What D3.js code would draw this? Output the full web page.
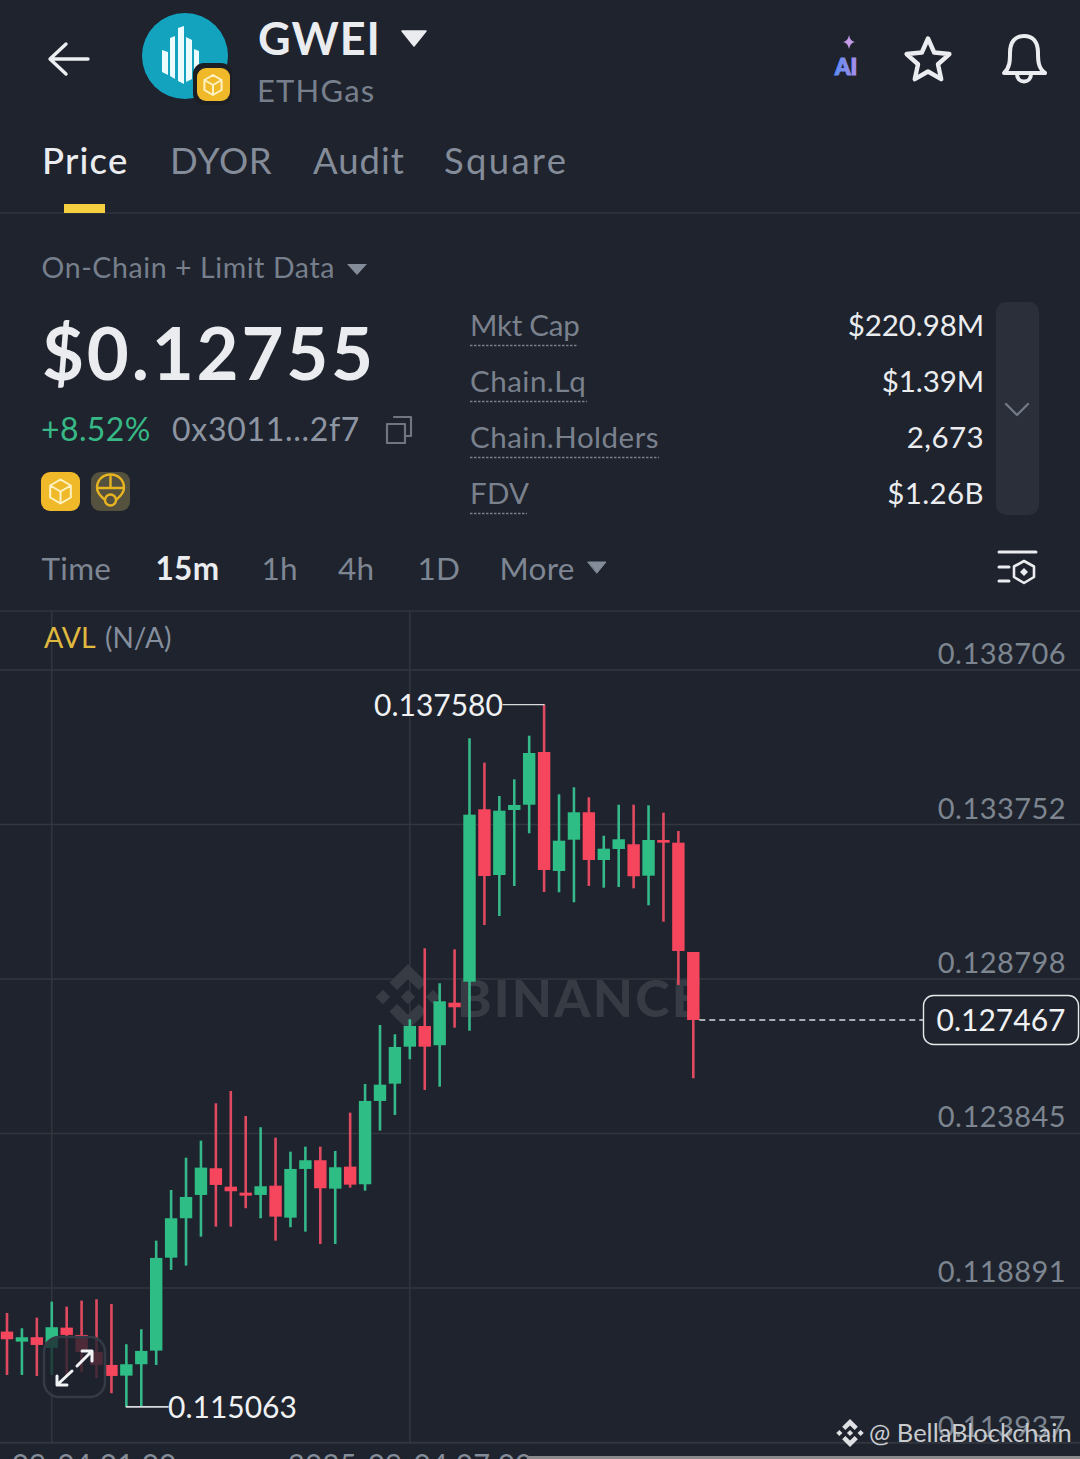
<!DOCTYPE html>
<html><head><meta charset="utf-8">
<script src="https://cdn.jsdelivr.net/npm/d3@7/dist/d3.min.js"></script>
<style>
html,body{margin:0;padding:0;background:#1e232d;overflow:hidden}
svg{display:block}
text{font-family:Lato,"Open Sans",sans-serif}
</style></head><body><div id="c"></div>
<script>
const openP=[.117476,.117155,.117296,.116953,.117604,.117370,.116825,.116408,.116065,.116430,.116867,.119848,.121111,.121858,.122714,.122124,.121932,.121858,.122156,.121131,.122692,.122971,.122060,.122766,.122201,.124872,.125427,.126613,.127276,.126658,.128023,.128697,.134224,.132117,.134201,.134371,.136061,.132246,.133249,.134128,.132598,.132951,.133102,.132095,.133240,.133153,.129649];
const highP=[.118075,.117585,.117925,.118437,.118277,.118470,.118514,.118364,.117072,.117553,.120393,.122019,.123054,.123599,.124798,.125193,.124391,.124029,.123695,.123246,.123407,.123407,.123269,.124497,.125417,.127308,.127010,.127491,.129767,.128645,.129735,.136500,.135718,.134650,.135186,.136583,.137580,.134705,.134929,.134609,.133377,.134371,.134371,.134352,.134115,.133528,.129649];
const lowP=[.116087,.116087,.116055,.116087,.116087,.116184,.115991,.115501,.115063,.115063,.116408,.119454,.119592,.120521,.120842,.120842,.121432,.121111,.120393,.120823,.120682,.120287,.120287,.122092,.121996,.123920,.124423,.126209,.125225,.125330,.127222,.127126,.130514,.130803,.131765,.133454,.131572,.131563,.131242,.131765,.131710,.131733,.131691,.131146,.130620,.128591,.125600];
const closeP=[.117232,.117296,.117049,.117617,.117370,.116825,.116408,.116055,.116430,.116857,.119839,.121111,.121794,.122734,.122179,.121977,.121836,.122137,.121163,.122692,.122971,.122073,.122746,.122189,.124872,.125394,.126603,.127276,.126613,.128068,.127876,.134051,.132085,.134179,.134362,.136029,.132278,.133217,.134128,.132598,.132961,.133262,.132076,.133240,.133153,.129681,.127467];
const priceTicks=[.138706,.133752,.128798,.123845,.118891,.113937];
const gridCandles=[3,27];
const timeLabels=["09-04 01:00","2025-09-04 07:00"];
const lastPrice=.127467, maxPrice=.137580, minPrice=.115063;
const tabs=["Price","DYOR","Audit","Square"];
const periods=["Time","15m","1h","4h","1D","More"];
const statNames=["Mkt Cap","Chain.Lq","Chain.Holders","FDV"];
const statValues=["$220.98M","$1.39M","2,673","$1.26B"];

const W=1080,H=1459,BG="#1e232d",GREEN="#2ebd85",RED="#f6465d",GRID="#32373f",GREY="#848e9c",WHITE="#eaecef";
const svg=d3.select("#c").append("svg").attr("width",W).attr("height",H).attr("viewBox",`0 0 ${W} ${H}`);
const T=(x,y,s,size,fill,o={})=>svg.append("text").attr("x",x).attr("y",y).text(s).attr("font-size",size).attr("fill",fill)
  .attr("font-weight",o.w||400).attr("text-anchor",o.a||"start").attr("letter-spacing",o.ls||0).attr("font-family",o.f||null);
const P=(d,o={})=>svg.append("path").attr("d",d).attr("fill",o.fill||"none").attr("stroke",o.stroke||"none").attr("stroke-width",o.sw||0)
  .attr("stroke-linecap","round").attr("stroke-linejoin","round").attr("opacity",o.op==null?1:o.op);

/* scales */
const y=d3.scaleLinear().domain([priceTicks[0],priceTicks[5]]).range([669.5,1442]);
const x=d3.scaleLinear().domain([0,46]).range([7,693.3]);

/* frame lines */
[213,611,1443].forEach(v=>svg.append("line").attr("x1",0).attr("x2",W).attr("y1",v).attr("y2",v).attr("stroke",v==1443?"#2c313b":"#30353e").attr("stroke-width",v==1443?2:1.5));

/* grid and axis */
gridCandles.forEach(i=>svg.append("line").attr("x1",x(i)).attr("x2",x(i)).attr("y1",611).attr("y2",1443).attr("stroke",GRID).attr("stroke-width",1.5));
const ax=svg.append("g").call(d3.axisRight(y).tickValues(priceTicks).tickFormat(d3.format(".6f")).tickSize(W));
ax.select(".domain").remove();
ax.selectAll("line").attr("stroke",GRID).attr("stroke-width",1.5);
ax.selectAll("text").attr("x",1066).attr("dy",0).attr("y",-6).attr("text-anchor","end").attr("font-size",29).attr("fill","#7d8590").attr("font-family","Lato").attr("letter-spacing",.45);

/* BINANCE watermark */
const wm="#363b44";
const dia=(cx,cy,r)=>`M${cx},${cy-r}L${cx+r},${cy}L${cx},${cy+r}L${cx-r},${cy}Z`;
const logo=(cx,cy,s,c)=>{
  P(`M${cx},${cy-s}L${cx+s*.56},${cy-s*.44}L${cx+s*.33},${cy-s*.21}L${cx},${cy-s*.54}L${cx-s*.33},${cy-s*.21}L${cx-s*.56},${cy-s*.44}Z`,{fill:c});
  P(`M${cx},${cy+s}L${cx+s*.56},${cy+s*.44}L${cx+s*.33},${cy+s*.21}L${cx},${cy+s*.54}L${cx-s*.33},${cy+s*.21}L${cx-s*.56},${cy+s*.44}Z`,{fill:c});
  P(dia(cx-s*.76,cy,s*.22),{fill:c});P(dia(cx+s*.76,cy,s*.22),{fill:c});P(dia(cx,cy,s*.22),{fill:c});
};
logo(408,997,33,wm);
T(457,1017,"BINANCE",52,wm,{w:900,ls:2.2});

/* candles */
const idx=d3.range(openP.length);
const bw=12.4;
const g=svg.append("g");
g.selectAll("line.w").data(idx).join("line").attr("x1",i=>x(i)).attr("x2",i=>x(i)).attr("y1",i=>y(highP[i])).attr("y2",i=>y(lowP[i]))
 .attr("stroke",i=>closeP[i]>=openP[i]?"#35b98a":"#e04a60").attr("stroke-width",2.6);
g.selectAll("rect").data(idx).join("rect").attr("x",i=>x(i)-bw/2).attr("width",bw)
 .attr("y",i=>y(Math.max(openP[i],closeP[i]))).attr("height",i=>Math.max(2.5,Math.abs(y(openP[i])-y(closeP[i]))))
 .attr("fill",i=>closeP[i]>=openP[i]?GREEN:RED);

/* max / min markers */
const hi=highP.indexOf(maxPrice), lo=lowP.indexOf(minPrice);
P(`M503,${y(maxPrice)}H${x(hi)}`,{stroke:"#d8dade",sw:1.4});
T(374,y(maxPrice)+11.5,d3.format(".6f")(maxPrice),30,"#f0f1f3",{ls:0});
P(`M${x(lo)},${y(minPrice)}H168`,{stroke:"#d8dade",sw:1.6});
T(168,y(minPrice)+11.5,d3.format(".6f")(minPrice),30,"#f0f1f3",{ls:0});

/* last price */
svg.append("line").attr("x1",x(46)+6).attr("x2",923).attr("y1",y(lastPrice)).attr("y2",y(lastPrice)).attr("stroke","#d8dade").attr("stroke-width",1.4).attr("stroke-dasharray","6 4");
svg.append("rect").attr("x",923.5).attr("y",995.5).attr("width",155).attr("height",49).attr("rx",10).attr("fill",BG).attr("stroke","#e6e8ea").attr("stroke-width",1.4);
T(1001,y(lastPrice)+11,d3.format(".6f")(lastPrice),30,"#f0f1f3",{a:"middle",ls:0});

/* expand button */
svg.append("rect").attr("x",44).attr("y",1337).attr("width",61).attr("height",60).attr("rx",15).attr("fill",BG).attr("fill-opacity",.78).attr("stroke","#353b46").attr("stroke-width",2.5);
P("M57,1385L72,1371M57,1376V1385H67M92,1351L77,1366M82,1351H92V1361",{stroke:"#f2f3f5",sw:3});

/* AVL */
T(44,647.5,"AVL",28.5,"#e0b93f");T(105,647.5,"(N/A)",28,GREY);

/* header */
P("M88,59H52M66,44L50,59L66,74",{stroke:"#eceef1",sw:3.4});
svg.append("circle").attr("cx",185).attr("cy",56).attr("r",43).attr("fill","#13a3bf");
P("M162,50L168,52V75L162,72ZM170,38L175,36V79L170,76ZM178,28L184,26V84L178,81ZM186,37L192,40V79L186,82ZM194,49L199,51V71L194,75Z",{fill:"#eafcff"});
svg.append("rect").attr("x",193).attr("y",63).attr("width",39).attr("height",42).attr("rx",11).attr("fill","#1b1e24");
svg.append("rect").attr("x",197).attr("y",68).attr("width",33).attr("height",33).attr("rx",9).attr("fill","#efb92a");
const cube=(cx,cy,s)=>{P(`M${cx},${cy-s}L${cx+s*.86},${cy-s*.5}V${cy+s*.5}L${cx},${cy+s}L${cx-s*.86},${cy+s*.5}V${cy-s*.5}ZM${cx-s*.86},${cy-s*.5}L${cx},${cy}L${cx+s*.86},${cy-s*.5}M${cx},${cy}V${cy+s}`,{stroke:"#fff3c4",sw:2});};
cube(213,85,10);
T(258,55,"GWEI",45,WHITE,{w:700,ls:1});
P("M402,31H426L414,46Z",{fill:WHITE,stroke:WHITE,sw:1.5});
T(257,102,"ETHGas",31,"#777f8c",{ls:1.2});

/* AI / star / bell */
const defs=svg.append("defs");
const lg=defs.append("linearGradient").attr("id","ai").attr("x1","0").attr("x2","1");
lg.append("stop").attr("offset","0").attr("stop-color","#5b8cf5");lg.append("stop").attr("offset","1").attr("stop-color","#a88fe8");
P("M849,35Q850,41 855,42Q850,43 849,49Q848,43 843,42Q848,41 849,35Z",{fill:"#c69be8"});
T(846,75,"AI",22,"url(#ai)",{w:900,a:"middle"}).attr("stroke","url(#ai)").attr("stroke-width",1.2);
const star=d3.range(10).map(i=>{const r=i%2?10.5:22.5,a=-Math.PI/2+i*Math.PI/5;return [928+r*Math.cos(a),61+r*Math.sin(a)]});
P("M"+star.map(p=>p.join(",")).join("L")+"Z",{stroke:WHITE,sw:4.4});
P("M1004,73C1010,68 1010,60 1010,53C1010,42 1015,36 1024,36C1033,36 1038,42 1038,53C1038,60 1038,68 1045,73ZM1017,74C1017,84 1031,84 1031,74",{stroke:WHITE,sw:4});

/* tabs */
const tabSpacing=[1.2,.6,1,2.3];
[42,170,313,444].forEach((v,i)=>T(v,174,tabs[i],36.5,i?"#848c99":WHITE,{w:i?400:500,ls:tabSpacing[i]}));
svg.append("rect").attr("x",64).attr("y",204).attr("width",41).attr("height",9).attr("fill","#f5cf3f");

/* price block */
T(41.500,278,"On-Chain + Limit Data",28.5,"#777f8c",{ls:.6});
P("M347,264H367L357,275Z",{fill:"#848c99"});
T(42,380,"$0.12755",72.5,WHITE,{w:700,ls:2.8});
T(41,440.5,"+8.52%",32,"#37b886",{ls:.4});
T(172,440.5,"0x3011...2f7",32,"#8e95a2",{ls:.7});
P("M394,417H411V436H405M387,424H405V443H387Z",{stroke:"#6f7682",sw:2.2});
svg.append("rect").attr("x",41).attr("y",472).attr("width",39).attr("height",39).attr("rx",9).attr("fill","#f0b92a");
cube(60.5,491.5,12);
svg.append("rect").attr("x",91).attr("y",472).attr("width",39).attr("height",39).attr("rx",9).attr("fill","#54513f");
P("M97,488C97,470 124,470 124,488C124,494 118,498 115,501H106C103,498 97,494 97,488ZM97,488H124M110.500,477V488",{stroke:"#e8b520",sw:2.4});
svg.append("circle").attr("cx",110.5).attr("cy",500).attr("r",5.500).attr("fill","#54513f").attr("stroke","#e8b520").attr("stroke-width",2.400);

/* stats */
const rowsY=[335,391,447,503],ends=[578,587,659,527],nameSpacing=[-.25,.5,.5,.2],valueSpacing=[-.1,-.1,.4,.4];
statNames.forEach((s,i)=>{
  T(470,rowsY[i]+.5,s,29.5,"#7a818d",{ls:nameSpacing[i]});
  T(984,rowsY[i]+.5,statValues[i],29.5,WHITE,{a:"end",ls:valueSpacing[i]});
  svg.append("line").attr("x1",470).attr("x2",ends[i]).attr("y1",rowsY[i]+10.5).attr("y2",rowsY[i]+10.5).attr("stroke","#7a818d").attr("stroke-width",1.5).attr("stroke-dasharray","2.5 1.5");
});
svg.append("rect").attr("x",996).attr("y",302).attr("width",43).attr("height",213).attr("rx",10).attr("fill","#2a2f39");
P("M1006,404L1017,415L1028,404",{stroke:"#737a86",sw:2.4});

/* period row */
[41.5,155.5,261.5,338,417.5,499.5].forEach((v,i)=>T(v,580,periods[i],31.5,i==1?WHITE:"#7e8693",{w:i==1?700:400,ls:.3}));
P("M588,562H606L597,573Z",{fill:"#848c99",stroke:"#848c99",sw:1});
P("M999,552H1036M999,567H1009M999,581H1009",{stroke:WHITE,sw:3});
P("M1024,561L1034,566.500V577L1024,583L1014,577V566.500Z",{stroke:WHITE,sw:2.600});
P(dia(1024,572,4),{fill:WHITE});

/* time labels, cut by the window edge */
T(12,1475,timeLabels[0],29,"#848c99",{ls:.4});
T(288,1475,timeLabels[1],29,"#848c99",{ls:.4});
svg.append("rect").attr("x",527).attr("y",1456).attr("width",553).attr("height",3).attr("fill","#8a8a8c");

/* author mark */
logo(850,1433,14,"#dfe1e4");
T(869,1442,"@ BellaBlockchain",25.5,"#c9cbcf",{f:"DejaVu Sans"});
</script></body></html>
